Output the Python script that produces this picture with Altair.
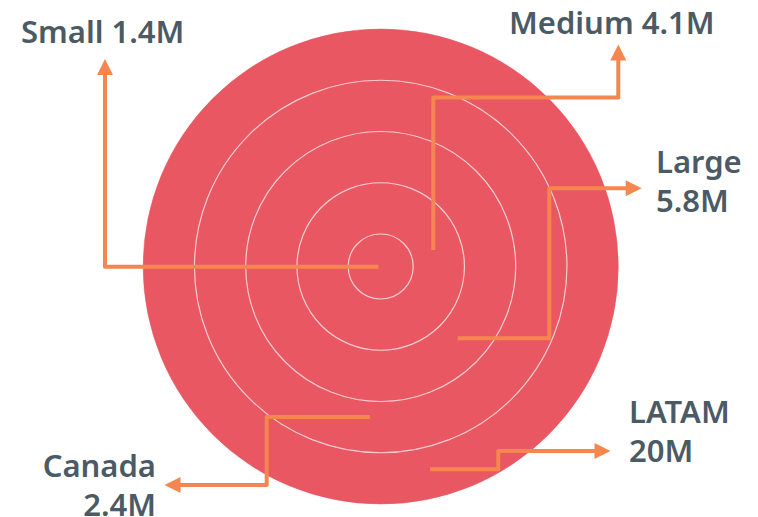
import math
import altair as alt
import pandas as pd

# ---- data ----
segments = ["Small", "Medium", "Large", "Canada", "LATAM"]
value_labels = ["1.4M", "4.1M", "5.8M", "2.4M", "20M"]
rings = [1, 2, 3, 4, 5]

# ---- layout (pixels) ----
W, H = 758, 517
CENTER = (380.7, 266.5)
RING_RADII = (32.5, 237.5)          # radius of innermost / outermost circle

# label: (x anchor, first baseline, align, split into two lines)
LABEL_LAYOUT = {
    "Small": (21, 43, "left", False),
    "Medium": (509, 34, "left", False),
    "Large": (656, 173, "left", True),
    "Canada": (156, 477, "right", True),
    "LATAM": (629, 423, "left", True),
}
LINE_GAP = 38.5

# arrow polylines: start ... tip
ARROW_LAYOUT = {
    "Small": [(378.5, 266.7), (105, 266.7), (105, 59)],
    "Medium": [(433.3, 250), (433.3, 97.5), (618.3, 97.5), (618.3, 44.5)],
    "Large": [(457.7, 338.3), (549.3, 338.3), (549.3, 188.3), (641.7, 188.3)],
    "Canada": [(370, 417), (266.7, 417), (266.7, 485), (164.5, 485)],
    "LATAM": [(430, 469.3), (498.3, 469.3), (498.3, 451), (610.5, 451)],
}
HEAD = 16

RED = "#E95763"
ORANGE = "#F6864F"
TEXT = "#4B5A65"
FONT = "Noto Sans"

# ---- tables ----
ring_df = pd.DataFrame({"segment": segments, "ring": rings,
                        "cx": CENTER[0], "cy": CENTER[1]})

label_rows = []
for seg, val in zip(segments, value_labels):
    x, y, align, split = LABEL_LAYOUT[seg]
    lines = [seg, val] if split else [f"{seg} {val}"]
    for i, t in enumerate(lines):
        label_rows.append({"segment": seg, "text": t, "x": x,
                           "y": y + i * LINE_GAP, "align": align})
label_df = pd.DataFrame(label_rows)

line_rows, head_rows = [], []
for seg in segments:
    pts = ARROW_LAYOUT[seg]
    (px, py), (tx, ty) = pts[-2], pts[-1]
    d = math.hypot(tx - px, ty - py)
    ux, uy = (tx - px) / d, (ty - py) / d
    base = (tx - ux * (HEAD - 3), ty - uy * (HEAD - 3))
    path = pts[:-1] + [base]
    for i, (x, y) in enumerate(path):
        line_rows.append({"segment": seg, "order": i, "x": x, "y": y})
    # rotation: triangle points up at angle 0 (screen coords, y down)
    ang = (math.degrees(math.atan2(ux, -uy)) + 360) % 360
    head_rows.append({"segment": seg, "x": tx - ux * HEAD / 2,
                      "y": ty - uy * HEAD / 2, "angle": ang})
line_df = pd.DataFrame(line_rows)
head_df = pd.DataFrame(head_rows)

xs = alt.Scale(domain=[0, W], nice=False, zero=False)
ys = alt.Scale(domain=[0, H], nice=False, zero=False, reverse=True)
rs = alt.Scale(type="linear", domain=[1, 5], range=list(RING_RADII), zero=False)

X = lambda f: alt.X(f, type="quantitative", scale=xs, axis=None)
Y = lambda f: alt.Y(f, type="quantitative", scale=ys, axis=None)
R = alt.Radius("ring:Q", scale=rs, stack=False)

disc = alt.Chart(ring_df).transform_filter(alt.datum.ring == 5).mark_arc(
    theta=0, theta2=2 * math.pi, fill=RED, stroke=RED, strokeWidth=0.5
).encode(x=X("cx"), y=Y("cy"), radius=R, radius2=alt.value(0))

circles = alt.Chart(ring_df).transform_filter(alt.datum.ring < 5).mark_arc(
    theta=0, theta2=2 * math.pi, fillOpacity=0, stroke="#FFFFFF",
    strokeOpacity=0.7, strokeWidth=1.2
).encode(x=X("cx"), y=Y("cy"), radius=R, radius2=alt.value(0))

lines = alt.Chart(line_df).mark_line(
    color=ORANGE, strokeWidth=4, strokeJoin="round", strokeCap="butt"
).encode(x=X("x"), y=Y("y"), order="order:Q", detail="segment:N")

heads = alt.Chart(head_df).mark_point(
    shape="M0,-1L1,1L-1,1Z", filled=True, color=ORANGE, opacity=1,
    size=HEAD * HEAD, strokeWidth=0
).encode(x=X("x"), y=Y("y"), angle=alt.Angle("angle:Q", scale=None))

def text_layer(align):
    return alt.Chart(label_df).transform_filter(alt.datum.align == align).mark_text(
        align=align, baseline="alphabetic", font=FONT, fontSize=31,
        fontWeight=600, color=TEXT
    ).encode(x=X("x"), y=Y("y"), text="text:N")

chart = alt.layer(
    disc, circles, lines, heads, text_layer("left"), text_layer("right")
).properties(
    width=W, height=H, padding=0, autosize="none", background="white"
).configure_view(stroke=None)

chart.save("out.html", embed_options={"renderer": "svg", "actions": False})
